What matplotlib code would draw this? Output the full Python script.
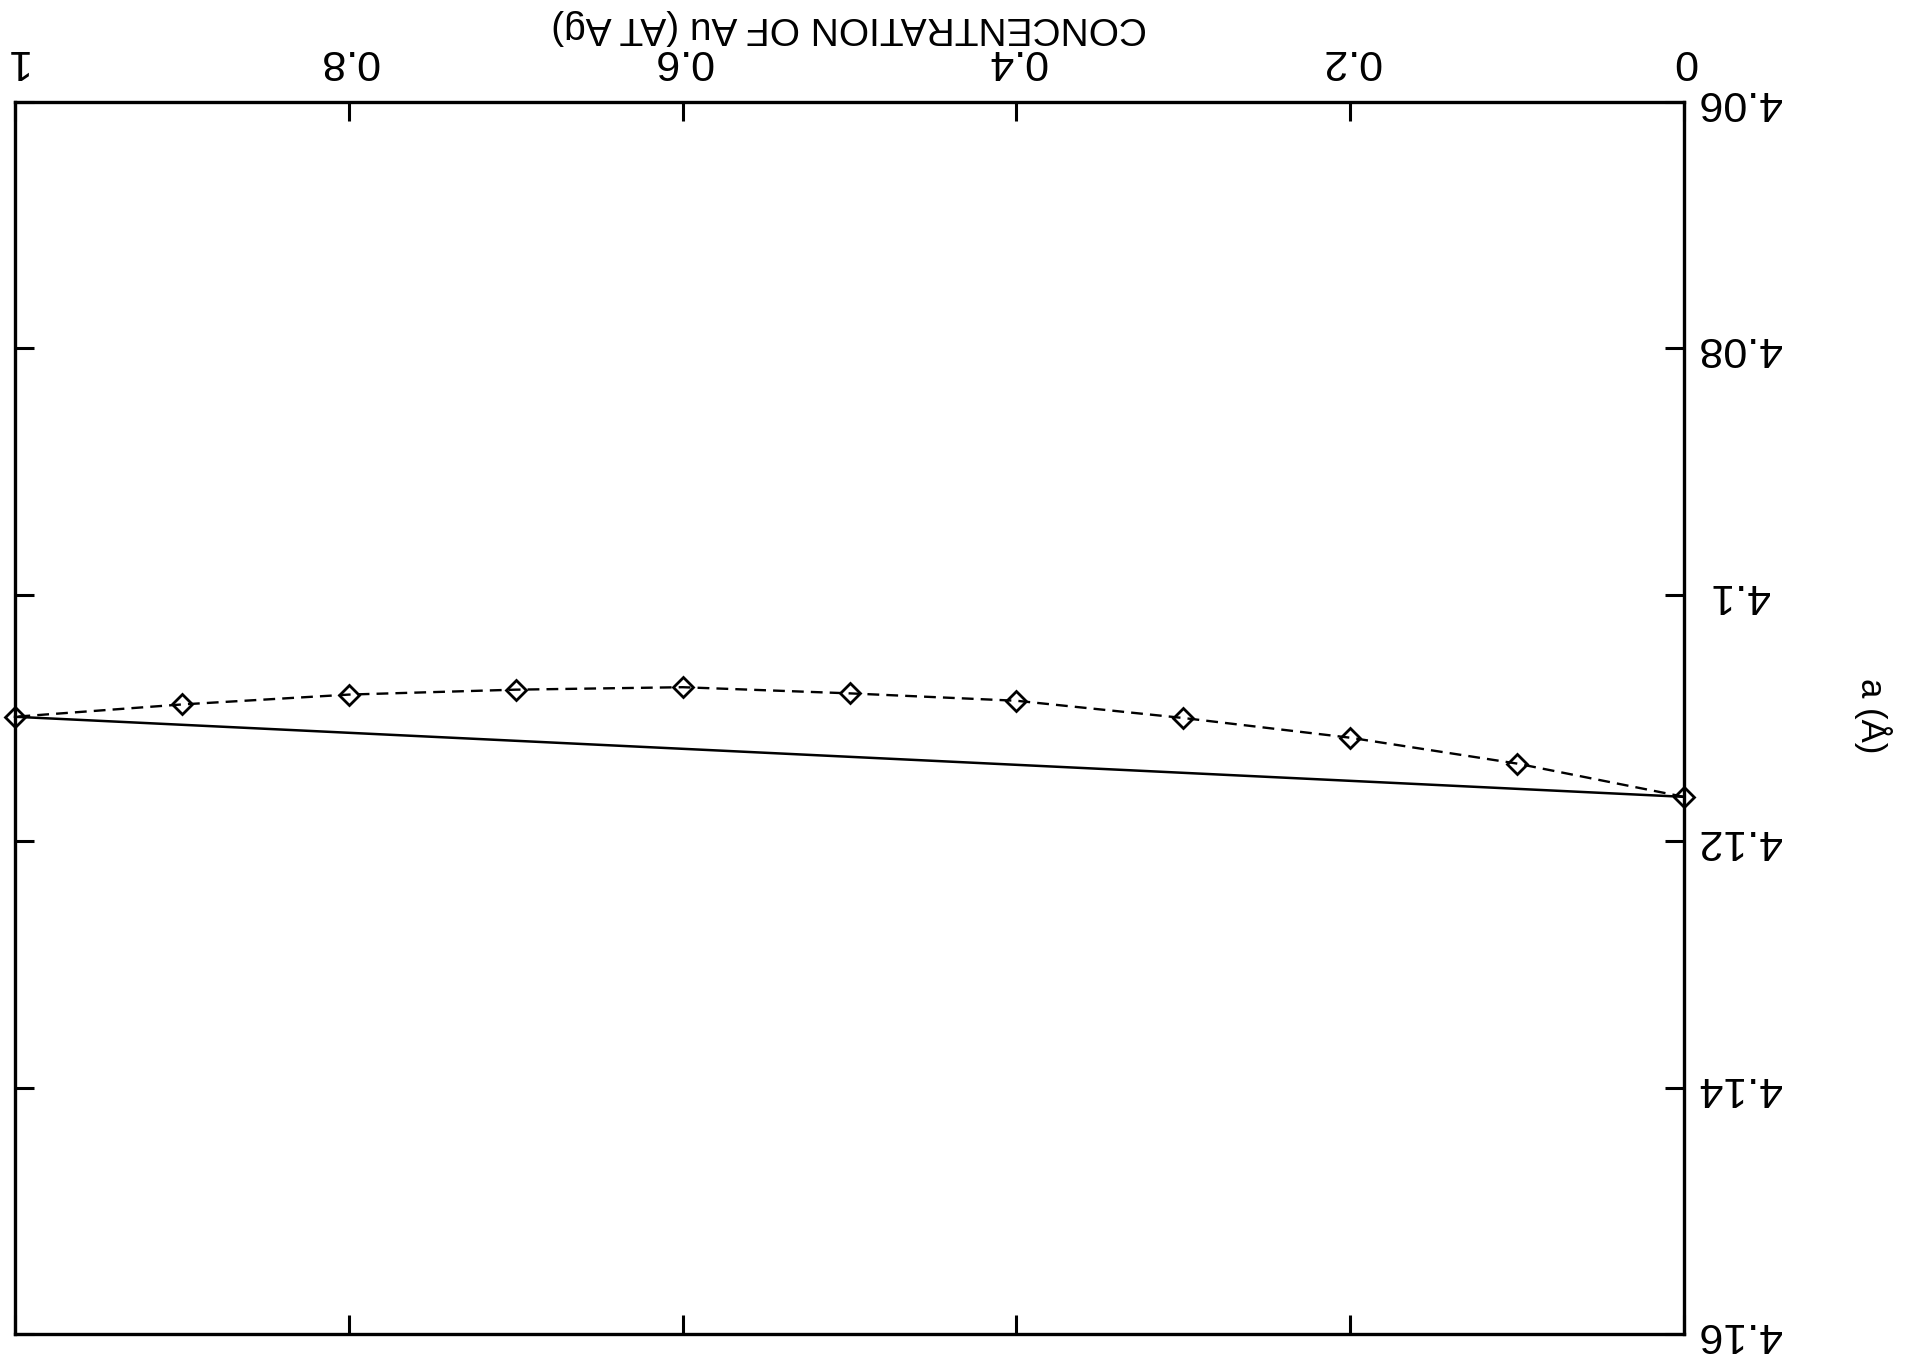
import matplotlib
matplotlib.use('Agg')
import matplotlib.pyplot as plt

plt.rcParams['font.family'] = ['Liberation Sans', 'DejaVu Sans']

# Data (concentration of Au, lattice parameter a in Angstrom)
conc = [0.0, 0.1, 0.2, 0.3, 0.4, 0.5, 0.6, 0.7, 0.8, 0.9, 1.0]
a_calc = [4.1164, 4.1137, 4.1116, 4.1100, 4.1086, 4.1080, 4.1075, 4.1077, 4.1081, 4.1089, 4.1099]
vegard_conc = [0.0, 1.0]
vegard_a = [4.1164, 4.1099]

x_ticks = [0, 0.2, 0.4, 0.6, 0.8, 1]
x_tick_labels = ['0', '0.2', '0.4', '0.6', '0.8', '1']
y_ticks = [4.06, 4.08, 4.10, 4.12, 4.14, 4.16]
y_tick_labels = ['4.06', '4.08', '4.1', '4.12', '4.14', '4.16']

xlabel = 'CONCENTRATION OF Au (AT Ag)'
ylabel = 'a (Å)'

W, H = 1919, 1357
left_px, right_px, top_px, bottom_px = 15, 1684, 102, 1334

fig = plt.figure(figsize=(W / 100, H / 100), dpi=100)
ax = fig.add_axes([left_px / W, 1 - bottom_px / H,
                   (right_px - left_px) / W, (bottom_px - top_px) / H])

ax.plot(vegard_conc, vegard_a, '-', color='black', lw=1.8, clip_on=False)
ax.plot(conc, a_calc, linestyle=(0, (5, 3)), color='black', lw=1.7,
        marker='D', markersize=10, markerfacecolor='none',
        markeredgecolor='black', markeredgewidth=2.0, clip_on=False)

ax.set_xlim(1, 0)
ax.set_ylim(4.16, 4.06)

ax.set_xticks(x_ticks)
ax.set_xticklabels(x_tick_labels)
ax.set_yticks(y_ticks)
ax.set_yticklabels(y_tick_labels)

ax.tick_params(axis='both', direction='in', length=14, width=2.2,
               top=True, bottom=True, left=True, right=True,
               labeltop=True, labelbottom=False, labelleft=False, labelright=True,
               labelsize=31, labelrotation=180)
ax.tick_params(axis='x', pad=15)
ax.tick_params(axis='y', pad=40)
for lab in ax.get_yticklabels():
    lab.set_ha('center')
    lab.set_va('center')
for lab in ax.get_xticklabels():
    lab.set_ha('center')

for sp in ax.spines.values():
    sp.set_linewidth(2.4)

x_center = (left_px + right_px) / 2 / W
fig.text(x_center, 1 - 27 / H, xlabel, rotation=180, ha='center', va='center', fontsize=28)
fig.text(1873 / W, 1 - 716 / H, ylabel, rotation=270, ha='center', va='center', fontsize=25)

fig.savefig('out.png', dpi=100, facecolor='white')
